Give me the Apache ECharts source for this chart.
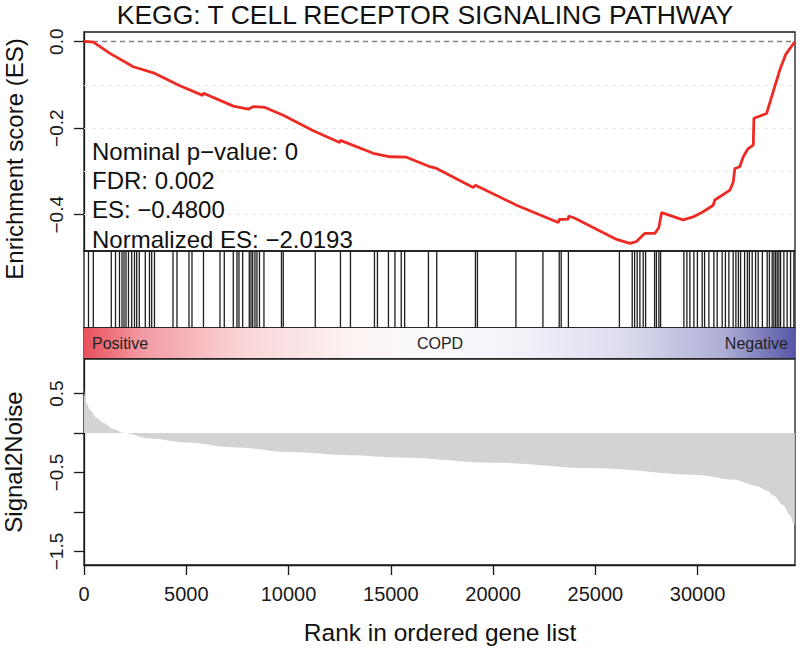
<!DOCTYPE html>
<html>
<head>
<meta charset="utf-8">
<script src="https://cdn.jsdelivr.net/npm/echarts@6/dist/echarts.min.js"></script>
<style>html,body{margin:0;padding:0;background:#fff;}#c{width:800px;height:649px;}</style>
</head>
<body>
<div id="c"></div>
<script>
// ---- data ----
const titleText = 'KEGG: T CELL RECEPTOR SIGNALING PATHWAY';
const statLines = ['Nominal p\u2212value: 0', 'FDR: 0.002', 'ES: \u22120.4800', 'Normalized ES: \u22122.0193'];
const rankMax = 34760;
const xTicks = [0, 5000, 10000, 15000, 20000, 25000, 30000];
const esTicks = [0, -0.2, -0.4];
const s2nTicks = [0.5, 0, -0.5, -1, -1.5];
const s2nLabels = [0.5, -0.5, -1.5];

// running enrichment score (rank, ES)
const esRank = [0, 220, 456, 1270, 2410, 3390, 4690, 5800, 5841, 7300, 8030, 8280, 8850, 9740, 11210, 12500, 12540, 14140, 14960, 15770, 16910, 17240, 19030, 19137, 21150, 23190, 23233, 23680, 23700, 24000, 26040, 26690, 27010, 27420, 27910, 28100, 28240, 29290, 29780, 30270, 30760, 30840, 31580, 31738, 31820, 32060, 32230, 32470, 32720, 32750, 33370, 34020, 34300, 34750];
const esValue = [0, 0, -0.001, -0.027, -0.058, -0.072, -0.102, -0.124, -0.119, -0.149, -0.156, -0.150, -0.152, -0.170, -0.206, -0.233, -0.228, -0.258, -0.266, -0.267, -0.289, -0.293, -0.337, -0.332, -0.378, -0.418, -0.411, -0.410, -0.403, -0.408, -0.457, -0.466, -0.462, -0.443, -0.443, -0.430, -0.395, -0.412, -0.405, -0.393, -0.378, -0.366, -0.343, -0.325, -0.293, -0.289, -0.266, -0.247, -0.239, -0.177, -0.166, -0.065, -0.030, 0];

// gene set member positions (ranks)
const hits = [220, 455, 1334, 1540, 1735, 1857, 1955, 2053, 2175, 2332, 2468, 2576, 2703, 2996, 3202, 3309, 3446, 4350, 4546, 5132, 5279, 5841, 6648, 6858, 7298, 7479, 7576, 7757, 8080, 8163, 8246, 8358, 8456, 8578, 8798, 9654, 9742, 11306, 12538, 13027, 14200, 14346, 14884, 15202, 15509, 15676, 16839, 17245, 19137, 19234, 21116, 22436, 23233, 23330, 23682, 26175, 26801, 26918, 27045, 27177, 27339, 27456, 27896, 27984, 28106, 28189, 29328, 29475, 29621, 29817, 29988, 30223, 30340, 30550, 30794, 30956, 31200, 31357, 31528, 31738, 31870, 31992, 32100, 32295, 32432, 32530, 32667, 32833, 32960, 33165, 33400, 33508, 33644, 33727, 33810, 33889, 33972, 34055, 34216, 34377, 34543, 34705];

// ranked list metric (rank, signal2noise)
const s2nRank = [0, 49, 150, 293, 620, 943, 1432, 1921, 3226, 5000, 7300, 10000, 13000, 15450, 20000, 25000, 30000, 31740, 32880, 33400, 33700, 34180, 34510, 34705, 34750];
const s2nValue = [0.55, 0.46, 0.36, 0.29, 0.19, 0.127, 0.051, 0.004, -0.07, -0.12, -0.18, -0.24, -0.28, -0.31, -0.376, -0.447, -0.53, -0.59, -0.67, -0.73, -0.79, -0.91, -1.04, -1.15, -1.17];

const barLabels = ['Positive', 'COPD', 'Negative'];

// ---- chart ----
const FONT = '"Liberation Sans", Arial, Helvetica, sans-serif';
const INK = '#1a1a1a';
const minus = v => String(v).replace('-', '\u2212');
const L = 84, W = 711;

const chart = echarts.init(document.getElementById('c'), null, {renderer: 'svg', width: 800, height: 649});

const hiddenX = i => ({gridIndex: i, type: 'value', min: 0, max: rankMax, show: false});

const option = {
  backgroundColor: '#fff',
  animation: false,
  textStyle: {fontFamily: FONT},
  grid: [
    {left: L, top: 32, width: W, height: 219, show: true, borderColor: INK, borderWidth: 1.3, backgroundColor: 'transparent'},
    {left: L, top: 251, width: W, height: 77, show: true, borderColor: INK, borderWidth: 1.3, backgroundColor: 'transparent'},
    {left: L, top: 328, width: W, height: 30, show: true, borderColor: INK, borderWidth: 1.3, backgroundColor: 'transparent'},
    {left: L, top: 359, width: W, height: 206, show: true, borderColor: INK, borderWidth: 1.3, backgroundColor: 'transparent'}
  ],
  xAxis: [
    hiddenX(0), hiddenX(1), hiddenX(2),
    {
      gridIndex: 3, type: 'value', min: 0, max: rankMax,
      axisLine: {show: true, onZero: false, lineStyle: {color: INK, width: 1.3}},
      axisTick: {show: true, length: 10, customValues: xTicks, lineStyle: {color: INK, width: 1.3}},
      axisLabel: {customValues: xTicks, fontSize: 20, color: INK, margin: 19, fontFamily: FONT, formatter: v => String(v)},
      splitLine: {show: false}
    }
  ],
  yAxis: [
    {
      gridIndex: 0, type: 'value', min: -0.4838, max: 0.0224,
      axisLine: {show: true, lineStyle: {color: INK, width: 1.3}},
      axisTick: {show: true, length: 10, customValues: esTicks, lineStyle: {color: INK, width: 1.3}},
      axisLabel: {customValues: esTicks, rotate: 90, fontSize: 19, color: INK, margin: 18, fontFamily: FONT,
        formatter: v => minus(Number(v).toFixed(1))},
      splitLine: {show: false}
    },
    {gridIndex: 1, type: 'value', min: 0, max: 1, show: false},
    {gridIndex: 2, type: 'value', min: 0, max: 1, show: false},
    {
      gridIndex: 3, type: 'value', min: -1.671, max: 0.937,
      axisLine: {show: true, lineStyle: {color: INK, width: 1.3}},
      axisTick: {show: true, length: 10, customValues: s2nTicks, lineStyle: {color: INK, width: 1.3}},
      axisLabel: {customValues: s2nLabels, rotate: 90, fontSize: 19, color: INK, margin: 18, fontFamily: FONT,
        formatter: v => minus(Number(v).toFixed(1))},
      splitLine: {show: false}
    }
  ],
  series: [
    {
      type: 'line', xAxisIndex: 0, yAxisIndex: 0, z: 5,
      data: esRank.map((r, i) => [r, esValue[i]]),
      showSymbol: false, symbol: 'none',
      lineStyle: {color: '#ee2a24', width: 2.8},
      markLine: {
        silent: true, symbol: 'none', label: {show: false},
        data: [
          {yAxis: -0.1, lineStyle: {type: [4, 4], color: '#e4e9f0', width: 1}},
          {yAxis: -0.2, lineStyle: {type: [4, 4], color: '#e4e9f0', width: 1}},
          {yAxis: -0.3, lineStyle: {type: [4, 4], color: '#e4e9f0', width: 1}},
          {yAxis: -0.4, lineStyle: {type: [4, 4], color: '#e4e9f0', width: 1}},
          {yAxis: 0, lineStyle: {type: [5, 4], color: '#808080', width: 1.3}}
        ]
      }
    },
    {
      type: 'custom', xAxisIndex: 1, yAxisIndex: 1,
      data: hits.map(h => [h]),
      encode: {x: 0},
      renderItem: (params, api) => {
        const x = api.value(0);
        const a = api.coord([x, 0]);
        const b = api.coord([x, 1]);
        return {type: 'line', shape: {x1: a[0], y1: a[1], x2: b[0], y2: b[1]}, style: {stroke: '#1e1e1e', lineWidth: 1.3}};
      }
    },
    {
      type: 'custom', xAxisIndex: 2, yAxisIndex: 2, z: 1,
      data: [[0, rankMax]],
      encode: {x: [0, 1]},
      renderItem: (params, api) => {
        const a = api.coord([api.value(0), 1]);
        const b = api.coord([api.value(1), 0]);
        return {
          type: 'rect',
          shape: {x: a[0], y: a[1], width: b[0] - a[0], height: b[1] - a[1]},
          style: {
            fill: new echarts.graphic.LinearGradient(0, 0, 1, 0, [
              {offset: 0, color: '#e8505c'},
              {offset: 0.08, color: '#f29aa1'},
              {offset: 0.22, color: '#f9d4d7'},
              {offset: 0.38, color: '#fdf3f3'},
              {offset: 0.5, color: '#fbfbfd'},
              {offset: 0.62, color: '#f1f1f9'},
              {offset: 0.76, color: '#dcdcee'},
              {offset: 0.9, color: '#aeaed6'},
              {offset: 1, color: '#5656a6'}
            ])
          }
        };
      }
    },
    {
      type: 'line', xAxisIndex: 3, yAxisIndex: 3,
      data: s2nRank.map((r, i) => [r, s2nValue[i]]),
      showSymbol: false, symbol: 'none', smooth: 0.35, smoothMonotone: 'x',
      lineStyle: {width: 0, color: '#d3d3d3'},
      areaStyle: {color: '#d3d3d3', opacity: 1}
    }
  ],
  graphic: [
    {type: 'text', x: 425, y: 15, style: {text: titleText, font: '26.5px ' + FONT, fill: '#111', align: 'center', verticalAlign: 'middle'}},
    ...statLines.map((t, i) => ({type: 'text', x: 92, y: [151, 180.5, 209.5, 239.5][i], z: 10,
      style: {text: t, font: '24px ' + FONT, fill: '#111', align: 'left', verticalAlign: 'middle'}})),
    {type: 'text', x: 14, y: 159, rotation: Math.PI / 2, style: {text: 'Enrichment score (ES)', font: '24px ' + FONT, fill: '#111', align: 'center', verticalAlign: 'middle'}},
    {type: 'text', x: 13, y: 462, rotation: Math.PI / 2, style: {text: 'Signal2Noise', font: '24px ' + FONT, fill: '#111', align: 'center', verticalAlign: 'middle'}},
    {type: 'text', x: 440, y: 632, style: {text: 'Rank in ordered gene list', font: '24.5px ' + FONT, fill: '#111', align: 'center', verticalAlign: 'middle'}},
    {type: 'text', x: 92, y: 343.5, z: 10, style: {text: barLabels[0], font: '16px ' + FONT, fill: '#222', align: 'left', verticalAlign: 'middle'}},
    {type: 'text', x: 440, y: 343.5, z: 10, style: {text: barLabels[1], font: '16px ' + FONT, fill: '#222', align: 'center', verticalAlign: 'middle'}},
    {type: 'text', x: 788, y: 343.5, z: 10, style: {text: barLabels[2], font: '16px ' + FONT, fill: '#222', align: 'right', verticalAlign: 'middle'}}
  ]
};
chart.setOption(option);
</script>
</body>
</html>
